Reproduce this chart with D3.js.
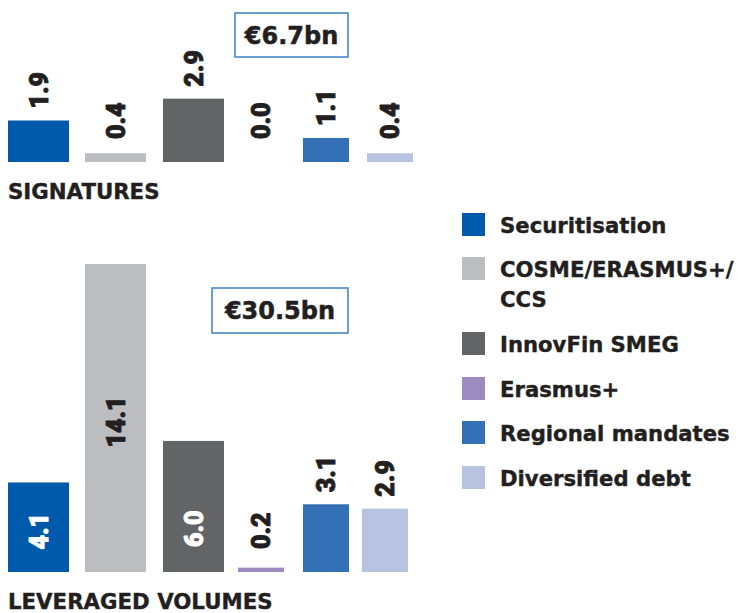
<!DOCTYPE html>
<html>
<head>
<meta charset="utf-8">
<script src="https://cdn.jsdelivr.net/npm/d3@7"></script>
<style>
  html, body { margin: 0; padding: 0; background: #fff; }
  svg { display: block; }
  text { font-weight: 900; }
  .num { font-family: Roboto, "Open Sans", sans-serif; }
  .word { font-family: "DejaVu Sans", sans-serif; font-weight: bold; }
</style>
</head>
<body>
<script>
// Instruments, in drawing order
const categories = ["Securitisation", "COSME/ERASMUS+/CCS", "InnovFin SMEG", "Erasmus+", "Regional mandates", "Diversified debt"];
// Legend text, split into lines
const legendLabels = [["Securitisation"], ["COSME/ERASMUS+/", "CCS"], ["InnovFin SMEG"], ["Erasmus+"], ["Regional mandates"], ["Diversified debt"]];
// EUR bn
const signatures = [1.9, 0.4, 2.9, 0.0, 1.1, 0.4];
const leveragedVolumes = [4.1, 14.1, 6.0, 0.2, 3.1, 2.9];
const totals = ["€6.7bn", "€30.5bn"];
const panelTitles = ["SIGNATURES", "LEVERAGED VOLUMES"];

const W = 741, H = 613;
const ink = "#231f20";
const svg = d3.select("body").append("svg").attr("width", W).attr("height", H);

const color = d3.scaleOrdinal(categories, ["#005aab", "#bcbdc1", "#636466", "#9b8bc0", "#3470b6", "#b8c3e2"]);
const barWidth = d3.scaleOrdinal(categories, [61, 61, 61, 46, 46, 46]);
// bar heights share one scale across both panels
const h = d3.scaleLinear().domain([0, 14.1]).range([0, 308]);
const fmt = d3.format(".1f");

const panels = [
  {
    values: signatures, title: panelTitles[0], total: totals[0],
    baseline: 162, titleY: 199,
    x: d3.scaleOrdinal(categories, [38.5, 115.5, 193.5, 261, 326, 390]),
    box: { x: 235, y: 13, w: 113, h: 44 },
    placement: ["above", "above", "above", "above", "above", "above"],
    labelColor: [ink, ink, ink, ink, ink, ink]
  },
  {
    values: leveragedVolumes, title: panelTitles[1], total: totals[1],
    baseline: 572, titleY: 609,
    x: d3.scaleOrdinal(categories, [38.5, 115.5, 193.5, 261, 326, 385]),
    box: { x: 212, y: 288, w: 136, h: 45 },
    placement: ["mid", "mid", "low", "above", "above", "above"],
    labelColor: ["#ffffff", ink, "#ffffff", ink, ink, ink]
  }
];

const labelSize = 25;

panels.forEach(p => {
  const g = svg.append("g");
  const rows = categories.map((c, i) => ({ c, v: p.values[i], i }));

  g.selectAll("rect.bar").data(rows.filter(d => d.v > 0)).join("rect")
    .attr("class", "bar")
    .attr("x", d => p.x(d.c) - barWidth(d.c) / 2)
    .attr("width", d => barWidth(d.c))
    .attr("y", d => p.baseline - h(d.v))
    .attr("height", d => h(d.v))
    .attr("fill", d => color(d.c));

  // rotated value labels, thickened with a thin outline of the same colour
  g.selectAll("text.val").data(rows).join("text")
    .attr("class", "val num")
    .attr("font-size", labelSize)
    .attr("dy", "0.36em")
    .style("fill", d => p.labelColor[d.i])
    .style("stroke", d => p.labelColor[d.i])
    .style("stroke-width", 0.9)
    .style("stroke-linejoin", "round")
    .attr("text-anchor", d => p.placement[d.i] === "mid" ? "middle" : "start")
    .attr("transform", d => {
      const top = p.baseline - h(d.v);
      const mode = p.placement[d.i];
      let y;
      if (mode === "above") y = Math.min(top - 12, p.baseline - 23);
      else if (mode === "low") y = p.baseline - 25;
      else y = (top + p.baseline) / 2 + 4;
      return `translate(${p.x(d.c)},${y}) rotate(-90)`;
    })
    .text(d => fmt(d.v));

  // total box
  g.append("rect")
    .attr("x", p.box.x).attr("y", p.box.y)
    .attr("width", p.box.w).attr("height", p.box.h)
    .attr("fill", "#fff").attr("stroke", "#3b7fc4").attr("stroke-width", 1.5);
  g.append("text")
    .attr("class", "word")
    .attr("x", p.box.x + p.box.w / 2)
    .attr("y", p.box.y + p.box.h / 2)
    .attr("dy", "0.36em")
    .attr("text-anchor", "middle")
    .attr("font-size", 24)
    .style("fill", ink)
    .style("stroke", ink)
    .style("stroke-width", 0.5)
    .text(p.total);

  // panel title
  g.append("text")
    .attr("class", "word")
    .attr("x", 8).attr("y", p.titleY)
    .attr("font-size", 21.3)
    .style("fill", ink)
    .style("stroke", ink)
    .style("stroke-width", 0.4)
    .text(p.title);
});

// legend
const legendTop = d3.scaleOrdinal(categories, [213, 257, 332, 377, 421, 466]);
const lg = svg.append("g");
const items = lg.selectAll("g").data(categories).join("g")
  .attr("transform", d => `translate(462,${legendTop(d)})`);
items.append("rect").attr("width", 23).attr("height", 23).attr("fill", d => color(d));
items.append("text")
  .attr("class", "word")
  .attr("x", 38)
  .attr("font-size", 21.2)
  .style("fill", ink)
  .style("stroke", ink)
  .style("stroke-width", 0.4)
  .selectAll("tspan").data((d, i) => legendLabels[i]).join("tspan")
  .attr("x", 38)
  .attr("y", (d, j) => 20 + j * 30)
  .text(d => d);
</script>
</body>
</html>
